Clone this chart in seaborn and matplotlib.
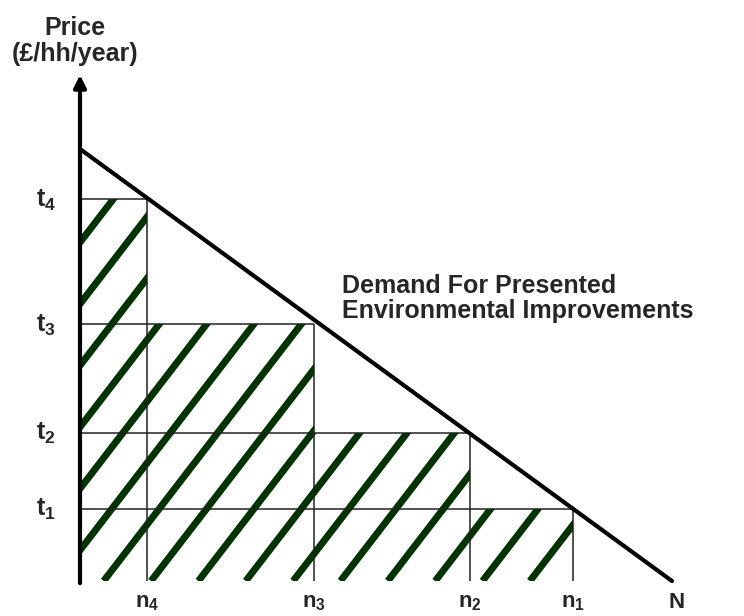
import numpy as np
import pandas as pd
import matplotlib.pyplot as plt
import seaborn as sns
from matplotlib.path import Path
from matplotlib.patches import PathPatch

# quantities on the x axis (N = total households)
n_labels = ["n$_4$", "n$_3$", "n$_2$", "n$_1$"]
n_values = [1.14, 3.95, 6.59, 8.32]
N_total = 10.0

# prices on the y axis
t_labels = ["t$_4$", "t$_3$", "t$_2$", "t$_1$"]
t_values = [8.84, 5.95, 3.43, 1.67]
P_max = 10.0

GREEN = "#003300"

# pixel scale: 59.2 px per x unit, 43.2 px per y unit, origin at (80, 581)
SX = 59.2
SY = 43.2


def main():
    sns.set_style("white")
    plt.rcParams["font.family"] = ["Liberation Sans", "DejaVu Sans"]
    plt.rcParams["font.weight"] = "bold"
    plt.rcParams["mathtext.fontset"] = "custom"
    plt.rcParams["mathtext.rm"] = "Liberation Sans:bold"
    plt.rcParams["mathtext.it"] = "Liberation Sans:bold"
    plt.rcParams["mathtext.bf"] = "Liberation Sans:bold"

    fig = plt.figure(figsize=(7.44, 6.16), dpi=100)
    ax = fig.add_axes([0, 0, 1, 1])
    ax.set_xlim(-80 / SX, 664 / SX)
    ax.set_ylim(-35 / SY, 581 / SY)
    ax.axis("off")

    # staircase region under the rectangles
    verts = [(0, 0), (0, t_values[0])]
    for i in range(len(n_values)):
        verts.append((n_values[i], t_values[i]))
        nxt = t_values[i + 1] if i + 1 < len(t_values) else 0
        verts.append((n_values[i], nxt))
    verts.append((0, 0))
    clip = PathPatch(Path(verts), transform=ax.transData, facecolor="none", edgecolor="none")
    ax.add_patch(clip)

    # diagonal green hatching, clipped to the staircase
    slope = 1.3 * SX / SY
    for c in np.arange(-7.6, 9.0, 0.8):
        xs = np.array([c, c + 8])
        ln, = ax.plot(xs, slope * (xs - c), color=GREEN, lw=5, solid_capstyle="butt", zorder=2)
        ln.set_clip_path(clip)

    # rectangle outlines
    for n, t in zip(n_values, t_values):
        ax.hlines(t, 0, n, color="#222222", lw=1.1, zorder=3)
        ax.vlines(n, 0, t, color="#222222", lw=1.1, zorder=3)

    # demand curve
    demand = pd.DataFrame({"q": [0, N_total], "p": [P_max, 0]})
    sns.lineplot(data=demand, x="q", y="p", ax=ax, color="black", lw=3, zorder=4)

    # axes with arrows
    ax.annotate("", xy=(0, 506 / SY), xytext=(0, -0.05),
                arrowprops=dict(arrowstyle="-|>", lw=3, color="black", mutation_scale=18,
                                shrinkA=0, shrinkB=0), zorder=5)
    ax.annotate("", xy=(680 / SX, 0), xytext=(-0.03, 0),
                arrowprops=dict(arrowstyle="-|>", lw=3, color="black", mutation_scale=18,
                                shrinkA=0, shrinkB=0), zorder=5)

    ax.text(-5 / SX, (581 - 41) / SY, "Price\n(£/hh/year)", ha="center", va="center",
            fontsize=18, fontweight="bold", linespacing=1.15)

    for lab, t in zip(t_labels, t_values):
        ax.text(-34 / SX, t - 1 / SY, lab, ha="center", va="center", fontsize=18)
    for lab, n in zip(n_labels, n_values):
        ax.text(n, -11 / SY, lab, ha="center", va="top", fontsize=16)
    ax.text(N_total + 5 / SX, -11 / SY, "N", ha="center", va="top", fontsize=16, fontweight="bold")

    ax.text(262 / SX, (581 - 274) / SY, "Demand For Presented\nEnvironmental Improvements",
            ha="left", va="top", fontsize=18, fontweight="bold", linespacing=1.05)

    fig.savefig("out.png", dpi=100)


if __name__ == "__main__":
    main()
